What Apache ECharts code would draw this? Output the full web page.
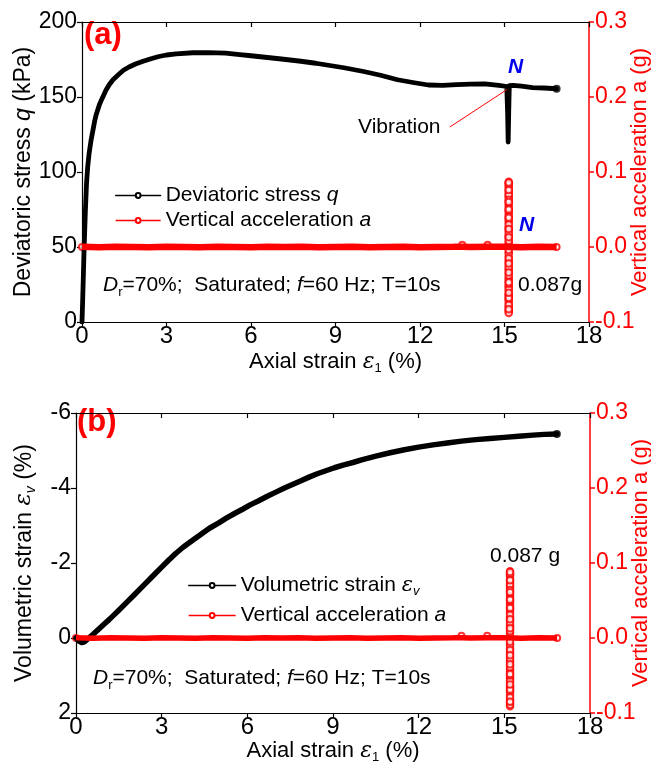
<!DOCTYPE html>
<html>
<head>
<meta charset="utf-8">
<script src="https://cdn.jsdelivr.net/npm/echarts@6/dist/echarts.min.js"></script>
<style>
  html, body { margin: 0; padding: 0; background: #fff; }
  #chart { width: 651px; height: 762px; }
</style>
</head>
<body>
<div id="chart"></div>
<script>
// ---------- (a) deviatoric stress vs axial strain ----------
const qStrain = [0, 0.02, 0.05, 0.08, 0.12, 0.16, 0.2, 0.25, 0.32, 0.39, 0.45, 0.5, 0.56, 0.62, 0.68, 0.74, 0.85, 0.96, 1.1, 1.3,
  1.47, 1.67, 1.9, 2.17, 2.45, 2.73, 3.0, 3.34, 3.94, 4.5, 5.1, 5.6, 6.0, 6.5, 7.0, 7.7, 8.3, 8.8, 9.3, 10.0,
  10.6, 11.2, 11.8, 12.3, 12.8, 13.3, 13.8, 14.3, 14.8, 15.08, 15.11, 15.13, 15.15, 15.17, 15.3, 15.6, 16.0, 16.4, 16.85];
const qValue = [0, 12, 32, 52, 74, 92, 103, 112, 121, 128, 134, 138, 141.5, 145, 147.6, 150, 154.5, 158, 161.5, 165,
  167.8, 170, 172, 173.8, 175.5, 177, 178, 178.8, 179.5, 179.6, 179.2, 178.3, 177.5, 176.5, 175.5, 174, 172.5, 171, 169.5, 167,
  164.5, 161.5, 159.5, 158, 157.8, 158.3, 158.6, 158.8, 157.8, 157, 140, 120, 140, 157.5, 157.8, 157.2, 156.3, 156, 155.5];

// vertical acceleration recorded along the test (both panels)
const accStrain = [0, 0.6, 1.2, 1.8, 2.4, 3.0, 3.6, 4.2, 4.8, 5.4, 6.0, 6.6, 7.2, 7.8, 8.4, 9.0, 9.6, 10.2, 10.8, 11.4,
  12.0, 12.6, 13.2, 13.5, 13.8, 14.4, 15.0, 15.3, 15.6, 16.2, 16.85];
const accValue = [0.0003, -0.0002, 0.0002, 0.0000, -0.0002, 0.0002, 0.0000, -0.0002, 0.0002, 0.0000, -0.0002, 0.0002, 0.0000, 0.0002, -0.0002, 0.0000, 0.0002, -0.0002, 0.0000, 0.0002,
  -0.0002, 0.0000, 0.0002, 0.0004, 0.0000, 0.0004, 0.0002, 0.0000, -0.0002, 0.0002, 0.0000];
// individual recorded points shown as open circles on the acceleration trace
const accMarkStrain = [0, 13.5, 14.4, 16.85];
const accMarkValue = [0.0, 0.003, 0.003, 0.0];

// vibration burst (60 Hz, 10 s) at N
const burstStrainA = 15.15;
const burstStrainB = 15.2;
const burstAccelA = [0.087, -0.084, 0.081, -0.086, 0.078, -0.079, 0.072, -0.074, 0.066, -0.069, 0.061, -0.063, 0.055, -0.058,
  0.049, -0.052, 0.044, -0.046, 0.038, -0.041, 0.033, -0.035, 0.027, -0.029, 0.022, -0.024, 0.016, -0.018, 0.011, -0.013,
  0.006, -0.007, 0.003, -0.002, 0.085, -0.088, 0.075, -0.071, 0.068, -0.064, 0.058, -0.053, 0.047, -0.043, 0.036, -0.031,
  0.025, -0.020, 0.014, -0.009, 0.083, -0.081, 0.070, -0.077, 0.063, -0.066, 0.052, -0.056, 0.041, -0.049, 0.030, -0.038,
  0.019, -0.027, 0.008, -0.015, 0.086, -0.083, 0.076, -0.068, 0.060, -0.061, 0.050, -0.047, 0.039, -0.034, 0.024, -0.022,
  0.013, -0.004];
const burstAccelB = [0.089, -0.087, 0.083, -0.091, 0.079, -0.082, 0.073, -0.076, 0.067, -0.070, 0.062, -0.064, 0.056, -0.059,
  0.050, -0.053, 0.045, -0.047, 0.039, -0.042, 0.034, -0.036, 0.028, -0.030, 0.023, -0.025, 0.017, -0.019, 0.012, -0.014,
  0.007, -0.008, 0.003, -0.002, 0.086, -0.089, 0.076, -0.072, 0.069, -0.065, 0.059, -0.054, 0.048, -0.044, 0.037, -0.032,
  0.026, -0.021, 0.015, -0.010, 0.085, -0.084, 0.071, -0.079, 0.064, -0.067, 0.053, -0.057, 0.042, -0.050, 0.031, -0.039,
  0.020, -0.028, 0.009, -0.016, 0.088, -0.085, 0.077, -0.069, 0.061, -0.062, 0.051, -0.048, 0.040, -0.035, 0.025, -0.023,
  0.013, -0.005];

// ---------- (b) volumetric strain vs axial strain ----------
const evStrain = [0, 0.1, 0.2, 0.3, 0.45, 0.6, 0.8, 1.0, 1.16, 1.35, 1.5, 1.75, 2.0, 2.35, 2.7, 3.0, 3.25, 3.5, 3.75, 4.0,
  4.33, 4.66, 5.0, 5.25, 5.55, 5.85, 6.1, 6.4, 6.7, 7.0, 7.3, 7.6, 7.9, 8.16, 8.45, 8.75, 9.05, 9.35, 9.7, 10.0,
  10.5, 11.0, 11.5, 12.0, 12.5, 13.0, 13.5, 14.0, 14.5, 15.0, 15.5, 16.0, 16.4, 16.84];
const evValue = [0, 0.08, 0.12, 0.1, 0.0, -0.1, -0.24, -0.38, -0.49, -0.63, -0.74, -0.93, -1.12, -1.39, -1.66, -1.89, -2.08, -2.26, -2.42, -2.56,
  -2.74, -2.92, -3.07, -3.19, -3.32, -3.44, -3.55, -3.66, -3.78, -3.89, -4.0, -4.1, -4.2, -4.29, -4.38, -4.46, -4.54, -4.61, -4.68, -4.75,
  -4.85, -4.94, -5.02, -5.09, -5.15, -5.2, -5.25, -5.29, -5.32, -5.35, -5.38, -5.41, -5.43, -5.44];

// axis ranges
const strainRange = { min: 0, max: 18, interval: 3 };
const qRange = { min: 0, max: 200, interval: 50 };
const evRange = { min: -6, max: 2, interval: 2 };
const accRange = { min: -0.1, max: 0.3, interval: 0.1 };

const zip = (xs, ys) => xs.map((x, i) => [x, ys[i]]);
const FONT = '"Liberation Sans", Arial, Helvetica, sans-serif';
const RED = '#ff0000';
const BLUE = '#0000ee';

const nameRich = (color, size) => ({
  t: { fontSize: size, fontFamily: FONT, color: color, lineHeight: size + 4 },
  i: { fontSize: size, fontFamily: FONT, color: color, fontStyle: 'italic', lineHeight: size + 4 },
  e: { fontSize: size, fontFamily: '"DejaVu Serif", serif', color: color, fontStyle: 'italic', lineHeight: size + 4 },
  s: { fontSize: 13, fontFamily: FONT, color: color, lineHeight: 12, verticalAlign: 'bottom' },
  sv: { fontSize: 14, fontFamily: FONT, color: color, fontStyle: 'italic', lineHeight: 12, verticalAlign: 'bottom' }
});

function strainAxes(grid) {
  return [
    {
      gridIndex: grid, type: 'value', position: 'bottom', ...strainRange,
      axisLine: { onZero: false, lineStyle: { color: '#000', width: 1.2 } },
      axisTick: { length: 5, lineStyle: { color: '#000', width: 1.2 } },
      axisLabel: { fontSize: 24, fontFamily: FONT, color: '#000', margin: 2 },
      splitLine: { show: false },
      name: '{t|Axial strain }{e|ε}{s|1}{t| (%)}',
      nameLocation: 'middle', nameGap: grid === 0 ? 27 : 24,
      nameTextStyle: { rich: nameRich('#000', 22) }
    },
    {
      gridIndex: grid, type: 'value', position: 'top', ...strainRange,
      axisLine: { onZero: false, lineStyle: { color: '#000', width: 1.2 } },
      axisTick: { inside: true, length: 5, lineStyle: { color: '#000', width: 1.2 } },
      axisLabel: { show: false },
      splitLine: { show: false }
    }
  ];
}

function accAxis(grid) {
  return {
    gridIndex: grid, type: 'value', position: 'right', ...accRange,
    axisLine: { show: true, onZero: false, lineStyle: { color: RED, width: 1.5 } },
    axisTick: { show: true, length: 5, lineStyle: { color: RED, width: 1.5 } },
    axisLabel: {
      fontSize: 23, fontFamily: FONT, color: RED, margin: 6,
      formatter: v => (Math.abs(v) < 1e-9 ? '0.0' : v.toFixed(1))
    },
    splitLine: { show: false },
    name: '{t|Vertical acceleration a (g)}',
    nameLocation: 'middle', nameRotate: 90, nameGap: 38, nameMoveOverlap: false,
    nameTextStyle: { rich: nameRich(RED, 22) }
  };
}

const legendRich = {
  t: { fontSize: 21, fontFamily: FONT, color: '#000', lineHeight: 24 },
  i: { fontSize: 21, fontFamily: FONT, color: '#000', fontStyle: 'italic', lineHeight: 24 },
  e: { fontSize: 21, fontFamily: '"DejaVu Serif", serif', color: '#000', fontStyle: 'italic', lineHeight: 24 },
  sv: { fontSize: 13, fontFamily: FONT, color: '#000', fontStyle: 'italic', lineHeight: 12, verticalAlign: 'bottom' }
};
const legendText = {
  q: '{t|Deviatoric stress }{i|q}',
  accA: '{t|Vertical acceleration }{i|a}',
  ev: '{t|Volumetric strain }{e|ε}{sv|v}',
  accB: '{t|Vertical acceleration }{i|a}'
};
function legendAt(name, left, centerY, itemWidth) {
  return {
    data: [name], left: left, top: centerY - 12, orient: 'vertical',
    itemWidth: itemWidth, itemHeight: 6, selectedMode: false,
    formatter: n => legendText[n],
    textStyle: { rich: legendRich },
    lineStyle: { width: 1.3 },
    padding: 0
  };
}

const textRich = {
  t: { fontSize: 21, fontFamily: FONT, fill: '#000', color: '#000' },
  i: { fontSize: 21, fontFamily: FONT, fill: '#000', color: '#000', fontStyle: 'italic' },
  s: { fontSize: 13, fontFamily: FONT, fill: '#000', color: '#000', padding: [14, 0, 0, 0] }
};
const conditionText = '{i|D}{s|r}{t|=70%;  Saturated; }{i|f}{t|=60 Hz; T=10s}';

function label(x, y, text, font, color, rich) {
  return {
    type: 'text', x: x, y: y, silent: true,
    style: {
      text: text, font: font, fill: color, rich: rich,
      align: 'left', verticalAlign: 'middle', textAlign: 'left', textVerticalAlign: 'middle'
    }
  };
}

const chart = echarts.init(document.getElementById('chart'), null, { renderer: 'canvas' });
chart.setOption({
  animation: false,
  backgroundColor: '#fff',
  grid: [
    { left: 82, top: 22, width: 507, height: 300, containLabel: false, outerBoundsMode: 'none' },
    { left: 76, top: 413, width: 514, height: 300, containLabel: false, outerBoundsMode: 'none' }
  ],
  xAxis: [...strainAxes(0), ...strainAxes(1)],
  yAxis: [
    {
      gridIndex: 0, type: 'value', position: 'left', ...qRange,
      axisLine: { show: true, onZero: false, lineStyle: { color: '#000', width: 1.2 } },
      axisTick: { show: true, length: 5, lineStyle: { color: '#000', width: 1.2 } },
      axisLabel: { fontSize: 23, fontFamily: FONT, color: '#000', margin: 5 },
      splitLine: { show: false },
      name: '{t|Deviatoric stress }{i|q}{t| (kPa)}',
      nameLocation: 'middle', nameRotate: 90, nameGap: 45, nameMoveOverlap: false,
      nameTextStyle: { rich: nameRich('#000', 23) }
    },
    accAxis(0),
    {
      gridIndex: 1, type: 'value', position: 'left', inverse: true, ...evRange,
      axisLine: { show: true, onZero: false, lineStyle: { color: '#000', width: 1.2 } },
      axisTick: { show: true, length: 5, lineStyle: { color: '#000', width: 1.2 } },
      axisLabel: { fontSize: 23, fontFamily: FONT, color: '#000', margin: 5 },
      splitLine: { show: false },
      name: '{t|Volumetric strain }{e|ε}{sv|v}{t| (%)}',
      nameLocation: 'middle', nameRotate: 90, nameGap: 38, nameMoveOverlap: false,
      nameTextStyle: { rich: nameRich('#000', 23) }
    },
    accAxis(1)
  ],
  legend: [
    legendAt('q', 115, 197, 45),
    legendAt('accA', 115, 222, 45),
    legendAt('ev', 188, 587, 47),
    legendAt('accB', 188, 617, 47)
  ],
  series: [
    {
      name: 'q', type: 'line', xAxisIndex: 0, yAxisIndex: 0,
      data: zip(qStrain, qValue),
      symbol: 'emptyCircle', showSymbol: false, symbolSize: 5,
      itemStyle: { color: '#000' },
      lineStyle: { color: '#000', width: 4.8, join: 'round', cap: 'round' },
      markLine: {
        silent: true, symbol: ['none', 'arrow'], symbolSize: [0, 9],
        label: { show: false },
        lineStyle: { color: RED, width: 1, type: 'solid' },
        data: [[{ coord: [13.06, 130] }, { coord: [15.09, 155] }]]
      }
    },
    {
      type: 'scatter', xAxisIndex: 0, yAxisIndex: 0,
      data: [[qStrain[qStrain.length - 1], qValue[qValue.length - 1]]],
      symbol: 'emptyCircle', symbolSize: 6, itemStyle: { color: '#000', borderWidth: 1.2 }
    },
    {
      name: 'accA', type: 'line', xAxisIndex: 0, yAxisIndex: 1,
      data: zip(accStrain, accValue),
      symbol: 'emptyCircle', showSymbol: false, symbolSize: 6,
      itemStyle: { color: RED },
      lineStyle: { color: RED, width: 6.5 }
    },
    {
      type: 'scatter', xAxisIndex: 0, yAxisIndex: 1,
      data: zip(accMarkStrain, accMarkValue),
      symbol: 'emptyCircle', symbolSize: 6, itemStyle: { color: RED, borderWidth: 1.3 }
    },
    {
      type: 'scatter', xAxisIndex: 0, yAxisIndex: 1,
      data: burstAccelA.map(v => [burstStrainA, v]),
      symbol: 'emptyCircle', symbolSize: 6.5, itemStyle: { color: RED, borderWidth: 2.2 }
    },
    {
      name: 'ev', type: 'line', xAxisIndex: 2, yAxisIndex: 2,
      data: zip(evStrain, evValue),
      symbol: 'emptyCircle', showSymbol: false, symbolSize: 5,
      itemStyle: { color: '#000' },
      lineStyle: { color: '#000', width: 5.5, join: 'round', cap: 'round' }
    },
    {
      type: 'scatter', xAxisIndex: 2, yAxisIndex: 2,
      data: [[evStrain[evStrain.length - 1], evValue[evValue.length - 1]]],
      symbol: 'emptyCircle', symbolSize: 6, itemStyle: { color: '#000', borderWidth: 1.2 }
    },
    {
      name: 'accB', type: 'line', xAxisIndex: 2, yAxisIndex: 3,
      data: zip(accStrain, accValue),
      symbol: 'emptyCircle', showSymbol: false, symbolSize: 6,
      itemStyle: { color: RED },
      lineStyle: { color: RED, width: 5.5 }
    },
    {
      type: 'scatter', xAxisIndex: 2, yAxisIndex: 3,
      data: zip(accMarkStrain, accMarkValue),
      symbol: 'emptyCircle', symbolSize: 6, itemStyle: { color: RED, borderWidth: 1.3 }
    },
    {
      type: 'scatter', xAxisIndex: 2, yAxisIndex: 3,
      data: burstAccelB.map(v => [burstStrainB, v]),
      symbol: 'emptyCircle', symbolSize: 6.5, itemStyle: { color: RED, borderWidth: 2.2 }
    }
  ],
  graphic: [
    { type: 'text', x: 84, y: 20, silent: true,
      style: { text: '(a)', font: 'bold 31px ' + FONT, fill: RED, verticalAlign: 'top', textVerticalAlign: 'top' } },
    { type: 'text', x: 77, y: 407, silent: true,
      style: { text: '(b)', font: 'bold 31px ' + FONT, fill: RED, verticalAlign: 'top', textVerticalAlign: 'top' } },
    label(508, 67, 'N', 'italic bold 21px ' + FONT, BLUE),
    label(519, 225, 'N', 'italic bold 21px ' + FONT, BLUE),
    label(358, 127, 'Vibration', '21px ' + FONT, '#000'),
    label(518, 285, '0.087g', '21px ' + FONT, '#000'),
    label(490, 556, '0.087 g', '21px ' + FONT, '#000'),
    label(103, 285, conditionText, '21px ' + FONT, '#000', textRich),
    label(93, 678, conditionText, '21px ' + FONT, '#000', textRich)
  ]
});
</script>
</body>
</html>
